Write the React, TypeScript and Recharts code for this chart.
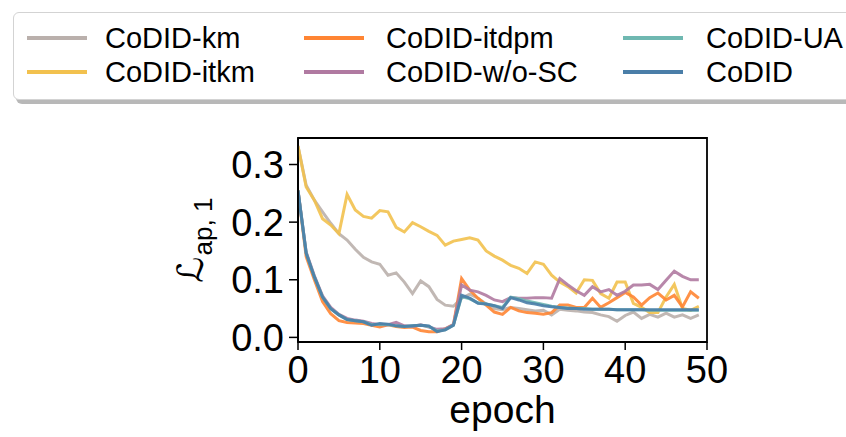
import React from 'react';
import { LineChart, Line, XAxis, YAxis, ReferenceArea, Label } from 'recharts';

// epochs 0..49 (x categories)
const epochs = Array.from({ length: 50 }, (_, i) => i);

const xTicks = [0, 10, 20, 30, 40, 50];
const yTicks = [0, 0.1, 0.2, 0.3];

const codidKm = [
    0.332, 0.264, 0.238, 0.218, 0.198, 0.180, 0.169, 0.153, 0.139, 0.131,
    0.127, 0.108, 0.112, 0.096, 0.076, 0.098, 0.088, 0.066, 0.056, 0.054,
    0.068, 0.075, 0.068, 0.058, 0.050, 0.048, 0.052, 0.050, 0.048, 0.046,
    0.047, 0.039, 0.049, 0.047, 0.046, 0.044, 0.043, 0.039, 0.036, 0.028,
    0.038, 0.044, 0.033, 0.040, 0.035, 0.042, 0.035, 0.039, 0.033, 0.039,
];
const codidItkm = [
    0.332, 0.261, 0.238, 0.206, 0.195, 0.180, 0.248, 0.221, 0.210, 0.207,
    0.220, 0.218, 0.191, 0.183, 0.199, 0.192, 0.184, 0.177, 0.160, 0.167,
    0.170, 0.173, 0.169, 0.150, 0.141, 0.134, 0.125, 0.120, 0.111, 0.131,
    0.127, 0.108, 0.096, 0.088, 0.077, 0.100, 0.099, 0.076, 0.068, 0.096,
    0.096, 0.059, 0.052, 0.043, 0.043, 0.070, 0.092, 0.050, 0.047, 0.054,
];
const codidItdpm = [
    0.255, 0.140, 0.100, 0.062, 0.041, 0.029, 0.026, 0.025, 0.024, 0.021,
    0.018, 0.022, 0.019, 0.017, 0.018, 0.012, 0.010, 0.010, 0.015, 0.022,
    0.102, 0.082, 0.068, 0.056, 0.044, 0.040, 0.052, 0.046, 0.043, 0.042,
    0.040, 0.043, 0.056, 0.056, 0.052, 0.052, 0.068, 0.052, 0.060, 0.069,
    0.078, 0.070, 0.056, 0.069, 0.077, 0.065, 0.073, 0.053, 0.079, 0.068,
];
const codidWoSC = [
    0.255, 0.148, 0.107, 0.072, 0.052, 0.040, 0.033, 0.030, 0.028, 0.024,
    0.022, 0.022, 0.026, 0.020, 0.019, 0.022, 0.018, 0.014, 0.015, 0.022,
    0.091, 0.082, 0.079, 0.073, 0.065, 0.062, 0.069, 0.068, 0.068, 0.069,
    0.069, 0.068, 0.102, 0.091, 0.081, 0.073, 0.088, 0.079, 0.083, 0.073,
    0.080, 0.091, 0.091, 0.092, 0.083, 0.099, 0.115, 0.106, 0.100, 0.100,
];
const codidUA = [
    0.255, 0.146, 0.105, 0.070, 0.050, 0.039, 0.031, 0.029, 0.027, 0.022,
    0.023, 0.022, 0.020, 0.019, 0.020, 0.021, 0.019, 0.011, 0.013, 0.021,
    0.071, 0.067, 0.060, 0.058, 0.055, 0.052, 0.070, 0.067, 0.063, 0.060,
    0.057, 0.054, 0.052, 0.051, 0.050, 0.050, 0.049, 0.049, 0.049, 0.048,
    0.048, 0.048, 0.048, 0.047, 0.047, 0.047, 0.047, 0.047, 0.047, 0.047,
];
const codid = [
    0.255, 0.146, 0.105, 0.070, 0.050, 0.039, 0.031, 0.029, 0.027, 0.021,
    0.024, 0.023, 0.020, 0.019, 0.020, 0.021, 0.020, 0.010, 0.013, 0.021,
    0.073, 0.068, 0.059, 0.058, 0.055, 0.050, 0.069, 0.065, 0.060, 0.058,
    0.055, 0.053, 0.052, 0.050, 0.050, 0.049, 0.049, 0.049, 0.049, 0.048,
    0.048, 0.048, 0.048, 0.048, 0.048, 0.048, 0.048, 0.048, 0.048, 0.048,
];

// plotting order = legend order (column-major, 3 columns)
const SERIES = [
    { key: 'km', name: 'CoDID-km', color: '#bab0ac', values: codidKm },
    { key: 'itkm', name: 'CoDID-itkm', color: '#f2c14e', values: codidItkm },
    { key: 'itdpm', name: 'CoDID-itdpm', color: '#ff8533', values: codidItdpm },
    { key: 'wosc', name: 'CoDID-w/o-SC', color: '#b07aa1', values: codidWoSC },
    { key: 'ua', name: 'CoDID-UA', color: '#6fb8b1', values: codidUA },
    { key: 'codid', name: 'CoDID', color: '#4a7ea8', values: codid },
];

const data = epochs.map((epoch, i) => {
    const row: { [k: string]: number } = { epoch };
    SERIES.forEach(s => { row[s.key] = s.values[i]; });
    return row;
});

const FONT = '"Liberation Sans", Arial, Helvetica, sans-serif';
const Y_MIN = -0.008;
const Y_MAX = 0.346;

// legend slot positions (relative to box)
const COL_LINE = [13, 290, 609];
const COL_TEXT = [91, 372, 692];
const ROW_Y = [25, 59];

const renderYLabel = (props: any) => {
    const vb = props.viewBox || {};
    const x = 203;
    const y = vb.y + vb.height / 2;
    return (
        <text x={x} y={y} transform={`rotate(-90, ${x}, ${y})`} textAnchor="middle" fill="#000">
            <tspan fontFamily='"DejaVu Sans", sans-serif' fontSize={36}>ℒ</tspan>
            <tspan fontFamily={FONT} fontSize={26} dy={9} dx={1}>ap, 1</tspan>
        </text>
    );
};

const renderXLabel = (props: any) => {
    const vb = props.viewBox || {};
    const x = vb.x + vb.width / 2;
    return (
        <text x={x} y={423} textAnchor="middle" fontFamily={FONT} fontSize={39} fill="#000">
            epoch
        </text>
    );
};

const LegendBox: React.FC = () => (
    <div style={{
        position: 'absolute', left: 13, top: 12, width: 850, height: 88,
        border: '1.5px solid #d3d3d3', borderRadius: 6, background: '#fff',
        boxShadow: '3px 4px 0 rgba(0,0,0,0.28)', boxSizing: 'border-box',
    }}>
        {SERIES.map((s, i) => {
            const col = Math.floor(i / 2);
            const row = i % 2;
            return (
                <React.Fragment key={s.key}>
                    <div style={{
                        position: 'absolute', left: COL_LINE[col], top: ROW_Y[row] - 2,
                        width: 60, height: 4, background: s.color,
                    }} />
                    <div style={{
                        position: 'absolute', left: COL_TEXT[col], top: ROW_Y[row] - 17,
                        height: 34, lineHeight: '34px', fontFamily: FONT, fontSize: 29,
                        color: '#000', whiteSpace: 'nowrap',
                    }}>
                        {s.name}
                    </div>
                </React.Fragment>
            );
        })}
    </div>
);

export default function App() {
    return (
        <div style={{ position: 'absolute', left: 0, top: 0, width: 846, height: 437, background: '#fff', overflow: 'hidden' }}>
            <LineChart
                width={846}
                height={437}
                data={data}
                margin={{ top: 138, right: 139, bottom: 0, left: 0 }}
            >
                <XAxis
                    dataKey="epoch"
                    type="number"
                    domain={[0, 50]}
                    ticks={xTicks}
                    allowDataOverflow
                    height={95}
                    stroke="#000"
                    tickSize={8}
                    tickMargin={6}
                    tick={{ fill: '#000', fontSize: 38, fontFamily: FONT }}
                    axisLine={{ stroke: '#000', strokeWidth: 1.8 }}
                    tickLine={{ stroke: '#000', strokeWidth: 1.5 }}
                >
                    <Label content={renderXLabel} />
                </XAxis>
                <YAxis
                    type="number"
                    domain={[Y_MIN, Y_MAX]}
                    ticks={yTicks}
                    allowDataOverflow
                    width={298}
                    stroke="#000"
                    tickSize={9}
                    tickMargin={5}
                    tickFormatter={(v: number) => v.toFixed(1)}
                    tick={{ fill: '#000', fontSize: 38, fontFamily: FONT }}
                    axisLine={{ stroke: '#000', strokeWidth: 1.8 }}
                    tickLine={{ stroke: '#000', strokeWidth: 1.5 }}
                >
                    <Label content={renderYLabel} />
                </YAxis>
                {SERIES.map(s => (
                    <Line
                        key={s.key}
                        type="linear"
                        dataKey={s.key}
                        name={s.name}
                        stroke={s.color}
                        strokeWidth={3}
                        strokeOpacity={0.9}
                        dot={false}
                        activeDot={false}
                        isAnimationActive={false}
                    />
                ))}
                <ReferenceArea x1={0} x2={50} y1={Y_MIN} y2={Y_MAX} fill="none" stroke="#000" strokeWidth={1.8} />
            </LineChart>
            <LegendBox />
        </div>
    );
}
